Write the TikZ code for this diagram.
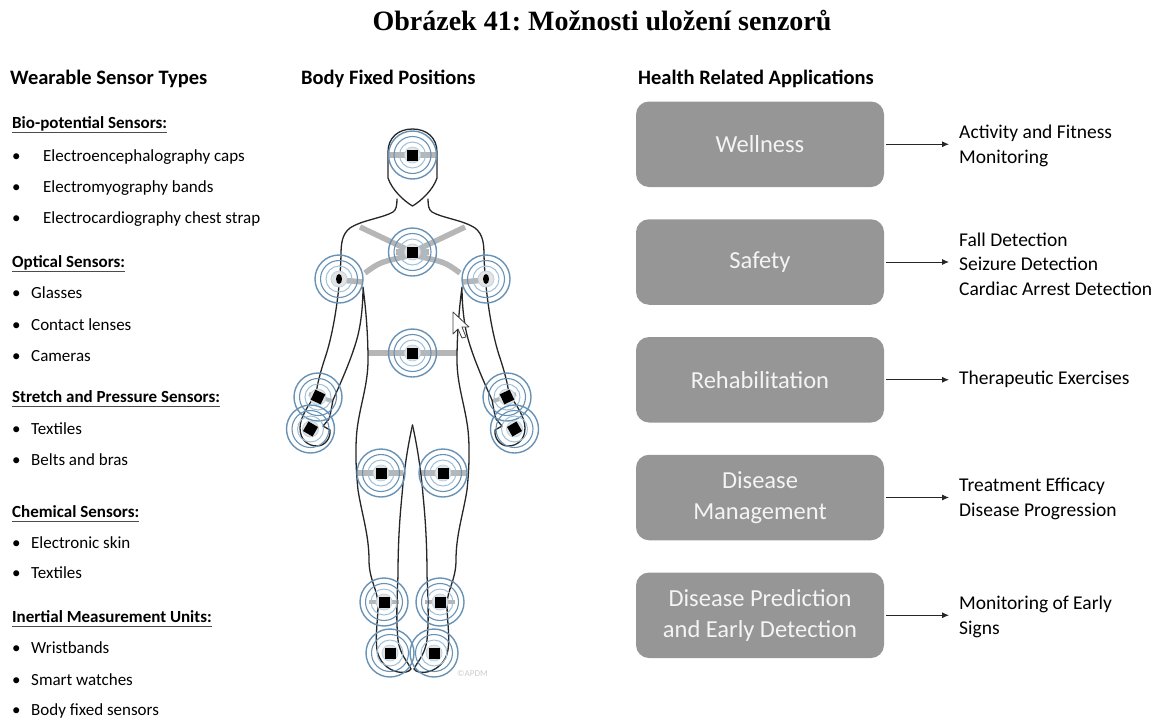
\documentclass[tikz,border=0pt]{standalone}
\usepackage{fontspec}
\setmainfont{Carlito}
\newfontfamily\titlefont{Liberation Serif}
\usetikzlibrary{arrows.meta,calc}
\frenchspacing

\definecolor{ringblue}{RGB}{104,146,181}
\definecolor{ringlight}{RGB}{160,192,216}
\definecolor{strapgray}{RGB}{182,182,182}
\definecolor{boxgray}{RGB}{150,150,150}
\definecolor{boxtext}{RGB}{244,244,244}
\definecolor{outlinecol}{RGB}{38,38,38}

\tikzset{
  every node/.style={inner sep=0pt},
  figtitle/.style={font=\titlefont\bfseries\fontsize{28}{32}\selectfont, anchor=base},
  colhead/.style={font=\bfseries\fontsize{20.5}{24}\selectfont, anchor=base west},
  grouphead/.style={font=\bfseries\fontsize{17}{20}\selectfont, anchor=base west},
  listitem/.style={font=\fontsize{17}{20}\selectfont, anchor=base west},
  uline/.style={line width=1pt, black!70},
  appbox/.style={fill=boxgray, rounded corners=13pt, minimum width=248pt,
    minimum height=85.5pt, text=boxtext, align=center,
    font=\fontsize{24.5}{31}\selectfont},
  applabel/.style={anchor=west, align=left, font=\fontsize{19.5}{24.5}\selectfont},
  apparrow/.style={-{Latex[length=7pt,width=6pt]}, line width=0.9pt, black!85},
  bodyline/.style={draw=outlinecol, line width=1.3pt, line join=round, line cap=round},
  strapline/.style={draw=strapgray, line width=5.5pt},
  rings/.pic={
    \draw[ringblue, line width=1.4pt] (0,0) circle[radius=24pt];
    \draw[ringblue, line width=1.1pt] (0,0) circle[radius=18.5pt];
    \draw[ringlight, line width=1pt] (0,0) circle[radius=13pt];
    \fill[gray!22] (0,0) circle[radius=8pt];
    \draw[ringlight!70, line width=0.8pt] (0,0) circle[radius=8pt];
  },
  sensor/.pic={
    \pic {rings};
    \fill[black] (-5.5pt,-5.5pt) rectangle (5.5pt,5.5pt);
  },
  armsensor/.pic={
    \pic {rings};
    \fill[black] (0,0) ellipse[x radius=3pt, y radius=5pt];
  },
}

\begin{document}
\begin{tikzpicture}[x=1pt,y=-1pt]
\useasboundingbox (0,0) rectangle (1164,718);

% ---------- title ----------
\node[figtitle] (ttl) at (602,30) {Obrázek 41: Možnosti uložení senzorů};

% ---------- column headings ----------
\node[colhead] (wst) at (10,84) {Wearable Sensor Types};
\node[colhead] (bfp) at (301,84) {Body Fixed Positions};
\node[colhead] (hra) at (638,84) {Health Related Applications};

% ---------- sensor types list ----------
\node[grouphead] (g1) at (12,128) {Bio-potential Sensors:};
\node[grouphead] (g2) at (12,267) {Optical Sensors:};
\node[grouphead] (g3) at (12,402) {Stretch and Pressure Sensors:};
\node[grouphead] (g4) at (12,517) {Chemical Sensors:};
\node[grouphead] (g5) at (12,622) {Inertial Measurement Units:};
\foreach \g in {g1,g2,g3,g4,g5}
  \draw[uline] ($(\g.base west)+(0,4)$) -- ($(\g.base east)+(0,4)$);

\foreach \nm/\y/\txt in {e1/161/Electroencephalography caps,
                        e2/192/Electromyography bands,
                        e3/223/Electrocardiography chest strap}{
  \node[listitem] (d\nm) at (12,\y) {•};
  \node[listitem] (\nm) at (43,\y) {\txt};
}
\foreach \nm/\y/\txt in {o1/298/Glasses, o2/330/Contact lenses, o3/361/Cameras,
                        s1/434/Textiles, s2/465/Belts and bras,
                        c1/548/Electronic skin, c2/578/Textiles,
                        m1/653/Wristbands, m2/685/Smart watches,
                        m3/715/Body fixed sensors}{
  \node[listitem] (d\nm) at (12,\y) {•};
  \node[listitem] (\nm) at (31,\y) {\txt};
}

% ---------- body figure: straps ----------
\draw[strapline] (388,155) -- (437,155);
\draw[strapline] (360,227) -- (412.5,252);
\draw[strapline] (465,227) -- (412.5,252);
\draw[strapline] (365,273) .. controls (380,262) .. (412.5,255);
\draw[strapline] (460,273) .. controls (445,262) .. (412.5,255);
\draw[strapline] (396,252) -- (429,252);
\draw[strapline] (339,280) -- (363,282);
\draw[strapline] (462,282) -- (486,280);
\draw[strapline, line width=6.5pt] (368,353) -- (457,353);
\draw[strapline, line width=4pt] (309,394) -- (332,401);
\draw[strapline, line width=4pt] (516,394) -- (493,401);
\draw[strapline] (358,473) -- (403,473);
\draw[strapline] (421,473) -- (466,473);
\draw[strapline, line width=4.5pt] (369,602) -- (399,602);
\draw[strapline, line width=4.5pt] (425,602) -- (455,602);

% ---------- body figure: outline ----------
% head
\draw[bodyline] (412.5,129) .. controls (398,129) and (388,138) .. (388,152)
  -- (388,178) .. controls (392,190) and (404,201) .. (412.5,206)
  .. controls (421,201) and (433,190) .. (437,178)
  -- (437,152) .. controls (437,138) and (427,129) .. (412.5,129) -- cycle;

% left half of the body; the right half is its mirror image
\foreach \side in {1,-1}{
\begin{scope}[shift={({412.5-412.5*\side},0)}, xscale=\side]
  % neck, shoulder and outer arm
  \draw[bodyline] (397,199) .. controls (397,206) and (396,210) .. (393,212)
    .. controls (383,218) and (362,220) .. (350,228)
    .. controls (342,234) and (341,244) .. (341,255)
    .. controls (340,290) and (334,330) .. (326,355)
    .. controls (320,373) and (317,385) .. (316,395)
  % hand
    .. controls (308,405) and (300,418) .. (300,428)
    .. controls (300,440) and (308,446) .. (317,446)
    .. controls (325,446) and (331,438) .. (330,430)
    -- (323,426) -- (329,419)
    .. controls (331,412) and (332,405) .. (333,400)
  % inner arm
    .. controls (342,380) and (353,355) .. (358,335)
    .. controls (362,318) and (363,300) .. (363,287)
  % torso side and outer leg
    .. controls (366,310) and (368,335) .. (368,360)
    .. controls (368,385) and (360,405) .. (357,430)
    .. controls (355,450) and (356,470) .. (358,490)
    .. controls (362,515) and (369,535) .. (369,560)
    .. controls (369,580) and (378,590) .. (378,605)
    .. controls (378,620) and (375,635) .. (377,650)
    .. controls (379,662) and (388,670) .. (398,672)
    .. controls (404,673) and (409,672) .. (411,669);
  % inner leg
  \draw[bodyline] (412.5,425) .. controls (408,445) and (404,470) .. (402,495)
    .. controls (399,525) and (398,550) .. (398,575)
    .. controls (397,600) and (396,620) .. (398,640)
    .. controls (400,655) and (408,662) .. (411,669);
\end{scope}
}

% ---------- body figure: sensors ----------
\pic at (412.5,155) {sensor};
\pic at (412.5,252) {sensor};
\pic at (339,279) {armsensor};
\pic at (486,279) {armsensor};
\pic at (412.5,353) {sensor};
\pic[rotate=-25] at (318,397) {sensor};
\pic[rotate=25] at (507,397) {sensor};
\pic[rotate=-30] at (310.5,429) {sensor};
\pic[rotate=30] at (514.5,429) {sensor};
\pic at (381,473) {sensor};
\pic at (443,473) {sensor};
\pic at (384,602) {sensor};
\pic at (440,602) {sensor};
\pic at (390,653) {sensor};
\pic at (434,653) {sensor};

% pointer arrow and watermark
\draw[fill=white, draw=black!75, line width=0.8pt, line join=round]
  (453,312) -- (453,334) -- (458,329) -- (462,338) -- (466,337)
  -- (462,327) -- (469,327) -- cycle;
\node[font=\fontsize{9}{10}\selectfont, text=gray!40, anchor=base west] (wm)
  at (457,676) {©APDM};

% ---------- health related applications ----------
\node[appbox] (a1) at (760,144.25) {Wellness};
\node[appbox] (a2) at (760,262) {Safety};
\node[appbox] (a3) at (760,379.75) {Rehabilitation};
\node[appbox] (a4) at (760,497.5) {Disease\\Management};
\node[appbox] (a5) at (760,615.25) {Disease Prediction\\and Early Detection};

\node[applabel] (l1) at (959,146) {Activity and Fitness\\Monitoring};
\node[applabel] (l2) at (959,264) {Fall Detection\\Seizure Detection\\Cardiac Arrest Detection};
\node[applabel] (l3) at (959,379.75) {Therapeutic Exercises};
\node[applabel] (l4) at (959,499) {Treatment Efficacy\\Disease Progression};
\node[applabel] (l5) at (959,617) {Monitoring of Early\\Signs};

\foreach \i in {1,...,5}
  \draw[apparrow] ([xshift=2pt]a\i.east) -- ([xshift=-10pt]a\i.east -| l\i.west);

\end{tikzpicture}
\end{document}
